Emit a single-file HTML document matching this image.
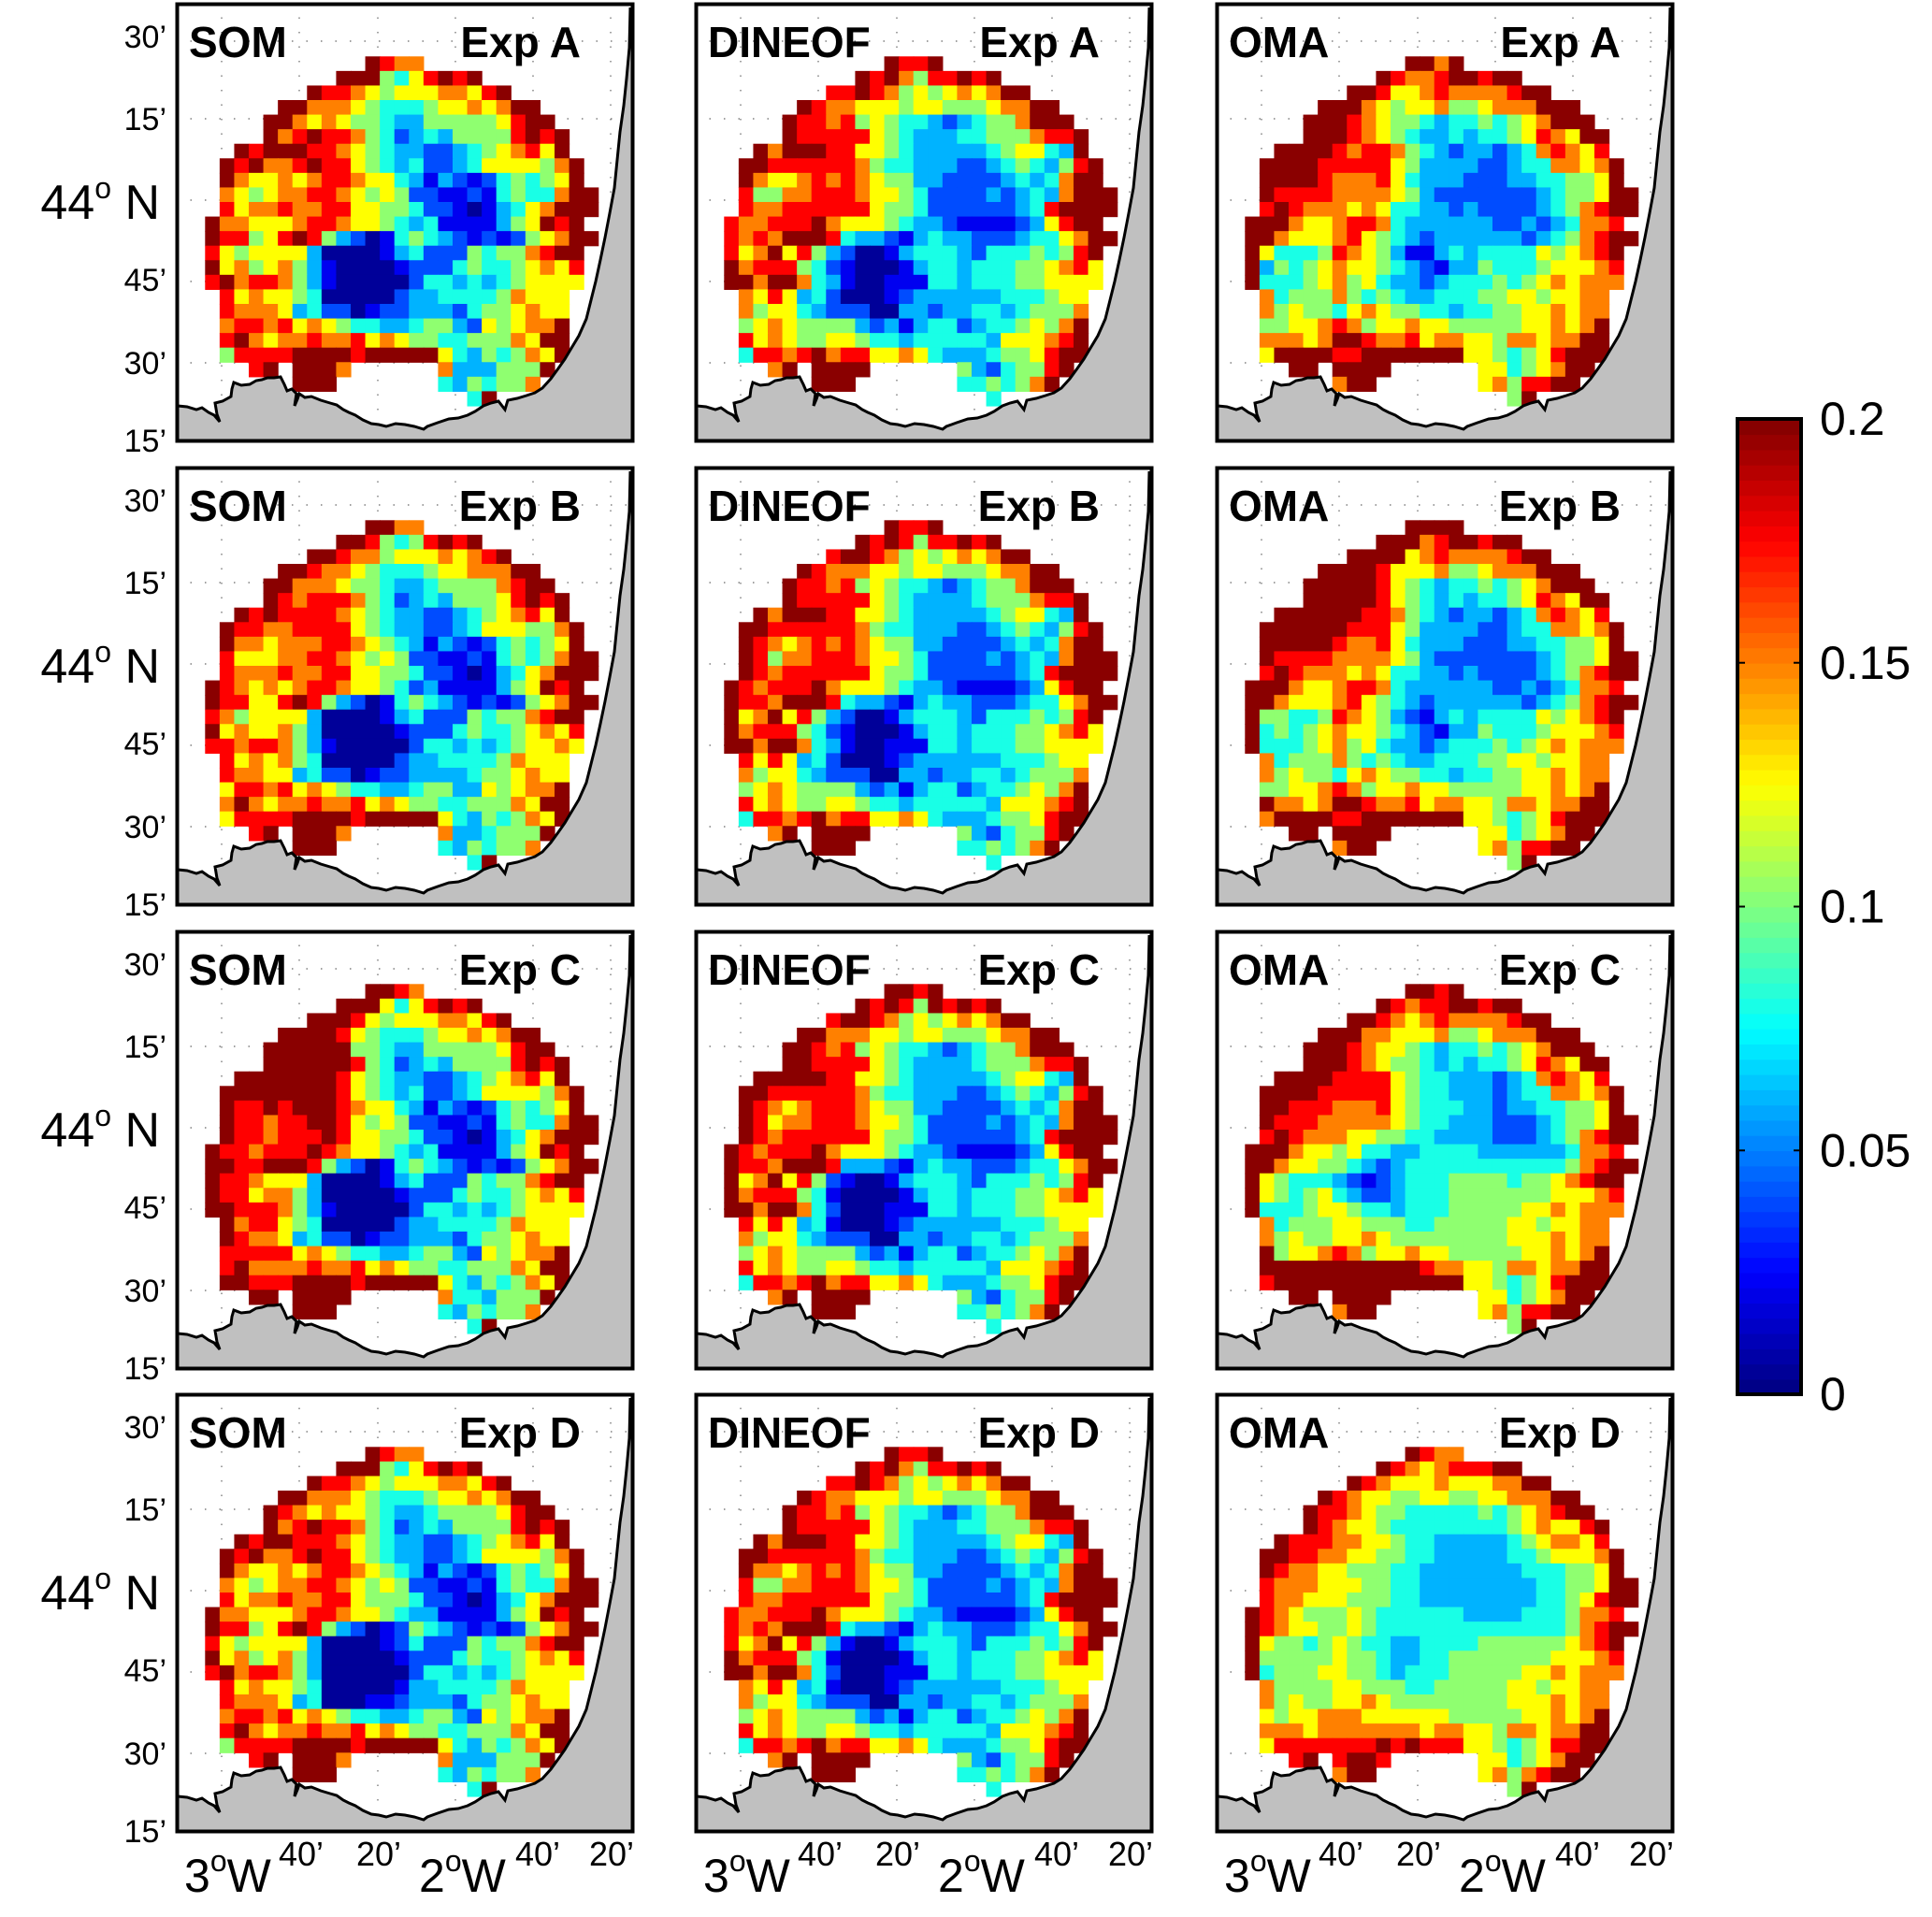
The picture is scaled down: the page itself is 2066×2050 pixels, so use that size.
<!DOCTYPE html>
<html><head><meta charset="utf-8"><style>
html,body{margin:0;padding:0;background:#fff}
svg{display:block}
text{font-family:"Liberation Sans",Arial,sans-serif}
</style></head><body>
<svg id="fig" width="2066" height="2050" viewBox="0 0 2066 2050" xmlns="http://www.w3.org/2000/svg"></svg>
<script>
// value levels per cell: digit d -> levelValues[d] ; '.' = no data
const levelValues = [0.005,0.022,0.04,0.06,0.08,0.103,0.125,0.15,0.175,0.198];
const methods = ["SOM","DINEOF","OMA"];
const experiments = ["Exp A","Exp B","Exp C","Exp D"];
const cbTicks = [0,0.05,0.1,0.15,0.2];
const cbTickLabels = ["0","0.05","0.1","0.15","0.2"];
const latLabels = ["30\u2019","15\u2019","44","45\u2019","30\u2019","15\u2019"];
const lonLabels = ["3","40\u2019","20\u2019","2","40\u2019","20\u2019"];

const somA = ["...........9877.............",".........9995468989.........",".......98876566677689.......",".....997776544456676799.....","....99767655433555556899....","....978988754234355558989...","..98999887654332234567869...",".9897789886543422346666579..",".9766767887664313212454569..",".76567788765652211214544799.",".86778778866554221013467999.","97766678876654341111356989..","988568985320145432121256799.","86566663000013422254557899..","96756753100001222454456768..","89788753100000244343456666..",".867665400000233444457666...",".877763422012233324556766...",".788786765443345532656779...",".897677877867655445557699...",".588889999899999643545769...","...89.9997......73335559....","......999.......4354557.....","..................49........"];
const somB = ["...........9977.............",".........9985458989.........",".......99877566676789.......",".....998776544456677799.....","....99777655433455557899....","....987888754234355568989...","..98988887654332234567869...",".9887788886543322346665579..",".9776777887654313212454569..",".86667788765652211214545799.",".87778778866554221013467999.","98767678876654231111356989..","988668985320145432121256799.","87566663000013422254557899..","96766753000001222454456768..","88788753100000244343456676..",".867675400000233444457666...",".877663422012233334556766...",".688786765443345533656779...",".797677877867655445557699...",".688889999899999643545769...","...89.9997......73345559....","......999.......4354557.....","..................49........"];
const somC = ["...........9987.............",".........9996468989.........",".......99986566677689.......",".....999986544456676799.....","....99999955433555556899....","....999999854234355558989...","..99999998654332234567869...",".9999999986543422346666579..",".9889899987664313212454569..",".98878899865652211214544799.",".98878889866554221013467999.","98878889876654341111356989..","998899985320145432121256799.","98876663000013422254557899..","98867753000001222454456768..","99888753100000244343456666..",".978865400000233444457666...",".987763422012233324556766...",".888886765443345532656779...",".897777877867655445557699...",".998889999899999643545769...","...99.9999......74435559....","......999.......4354557.....","..................49........"];
const somD = ["...........9877.............",".........9995468989.........",".......98876566677689.......",".....997776544456676799.....","....98767665433455556899....","....978988754234355558989...","..98998887654332234567869...",".9897789886543322346666579..",".9766767887654313212454569..",".76567788765652211214544799.",".86778778865554221013467999.","97766678876654331111356989..","988568985320125432121256799.","86566663000012422254557899..","96756753000001222454456768..","89788753000000244343456666..",".867665400000133444457666...",".877763400011233324556766...",".788786765443345532656779...",".897677877867655445557699...",".588889999899999643545769...","...89.9997......73335559....","......999.......4354557.....","..................49........"];
const dinA = ["...........9889.............",".........9897588989.........",".......88987565676799.......",".....987766656655567799.....","....98878565443234557999....","....988888654333445557889...","..97999886654333334566439...",".9988888875443332234543589..",".9766787876553322223434799..",".85577888766542222323437999.",".87788888865542222223489999.","87788897666543321111236899..","878799984332134332223446799.","86796853200134443244454589..","97888542100013443444556786..","99799743100111443444556666..",".768634200012333333444566...",".756643222003323344345557...",".567655553231344234456579...",".867655665443444443666789...",".488789788667643334556899...","...79.9999......53245589....","......999.......4454579.....","..................4........."];
const dinB = ["...........9889.............",".........9898588989.........",".......89987565676799.......",".....987776656655567799.....","....98878565443234557999....","....988888654333345557889...","..97999886654333334566439...",".9988888875443332234543589..",".9876787876553322223434799..",".98577888766542222323437999.",".98788888865542222223489999.","98788897666543321111236899..","988799984332134332223446799.","96796853200134443244454589..","97888542100013443444556786..","99799743100111443444556666..",".868634200012333333444566...",".756643222003323344345557...",".567655553231344234456579...",".867655665443444443666789...",".488789788667643334556899...","...79.9999......53245589....","......999.......4454579.....","..................4........."];
const dinC = ["...........9989.............",".........9898598989.........",".......89987565676799.......",".....997776656655567799.....","....99878565443234557999....","....998888654333345557889...","..99999886654333334566439...",".9988888875443332234543589..",".9876788876553322223434799..",".98677888766542222323437999.",".98788888865542222223489999.","98788897666543321111236899..","988799983332134332223446799.","96796852100134443244454589..","97888541000013443444556786..","99799742000111443444556666..",".868634100012333333444566...",".756643222003323344345557...",".567655553231344234456579...",".867655665443444443666789...",".488789788667643334556899...","...79.9999......53245589....","......999.......4454579.....","..................4........."];
const dinD = ["...........9889.............",".........9897588989.........",".......88987565676799.......",".....987766656655567799.....","....98878565443234557999....","....988888654333445557889...","..97999886654333334566439...",".9988888875443332234543589..",".9776787876553322223434799..",".85577888766542222323437999.",".87788888865542222223489999.","87788897666543321111236899..","878799984332134332223446799.","86796853100134443244454589..","97888541000013443444556786..","99799742000111443444556666..",".768634100012333333444566...",".756643222003323344345557...",".567655553231344234456579...",".867655665443444443666789...",".488789788667643334556899...","...79.9999......53245589....","......999.......4454579.....","..................4........."];
const omaA = ["...........9979.............",".........9877899899.........",".......99866787777899.......",".....999765667556777999.....","....99987655434454567999....","....999876543343445687699...","..99998788754323323478768...",".9999888886533332234477679..",".9999877786433322233445569..",".98888777765322222223455699.",".89877767644332322223457899.","99976678874333333223234778..","997666786543233333323457899.","96444587653113434444656789..","93545676654321335444566678..","94445675643323444545676777..",".745557545433444556656677...",".756554676554434455667677...",".556678756676655555667679...",".777679987786776657767799...",".699998899999996654568999...","...99.9999......66456799....","......799.......6758899.....","..................59........"];
const omaB = ["...........9999.............",".........9997899899.........",".......99996787777899.......",".....999986667556777999.....","....99999865434454567999....","....999998654343445687699...","..99999988754323323478768...",".9999998886533332234477679..",".9999987786433322233445569..",".98888777765322222223455699.",".89877767644332322223457899.","99976678874333333223234778..","997666786543233333323457899.","95544587653213434444656789..","94545676654321335444566678..","94445675643323444545676777..",".745557545433444556656677...",".756554676554434455667677...",".556678756676655555667679...",".977679987786776657767799...",".799998899999996654568999...","...99.9999......66456799....","......799.......6758899.....","..................59........"];
const omaC = ["...........9989.............",".........9878899899.........",".......99876787777899.......",".....999776667556777999.....","....99987665434454567999....","....999876554343445687699...","..99998888654433323478768...",".9999888886544333234477679..",".9988877786544433233445569..",".98887777765443332223455699.",".89877766554433332223457899.","99976656443344443333334778..","997665543234444444444457899.","96544432123444555545567899..","96545643223444555555566678..","94445665443444555556676777..",".745556655544555556656677...",".756556676555555556667677...",".956678756676655555667679...",".999999999998776657767799...",".899999999999996654568999...","...99.9999......66456799....","......799.......6758899.....","..................59........"];
const omaD = ["...........9877.............",".........9876788899.........",".......98766676667799.......",".....987665566556677799.....","....98876554444454567899....","....987665444444445676689...","..98887766544333334567768...",".9988776655443333344566679..",".9877665554433333334445569..",".87776665544333333334455699.",".87766655544333333334456899.","98765556544444433334445778..","987665565444444444444457899.","96554565443344445555556789..","95555565543344555555566678..","94555665543444555556676777..",".755556655544555556656677...",".756556676555555556667677...",".656677766666655555667679...",".777677777776776657767799...",".688888889898886654568899...","...89.8998......66456799....","......799.......6757899.....","..................59........"];
const panelData = [[somA,dinA,omaA],[somB,dinB,omaB],[somC,dinC,omaC],[somD,dinD,omaD]];

const NS="http://www.w3.org/2000/svg";
const svg=document.getElementById('fig');
function mk(tag,attrs,parent){const e=document.createElementNS(NS,tag);for(const k in attrs)e.setAttribute(k,attrs[k]);(parent||svg).appendChild(e);return e;}
function jet(t){t=Math.max(0,Math.min(1,t));const c=x=>Math.round(255*Math.max(0,Math.min(1,1.5-Math.abs(x))));return `rgb(${c(4*t-3)},${c(4*t-2)},${c(4*t-1)})`;}
const vmin=0,vmax=0.2;
const colorScale=v=>jet((v-vmin)/(vmax-vmin));
const digitToValue=d=>levelValues[d];

const colX=[188,743,1300], rowY=[3,499,995,1490];
const PW=490, PH=470, cell=15.57, gx0=31.3, gy0=57.3;
const xScale=c=>gx0+c*cell, yScale=r=>gy0+r*cell;
const coast=[[2,431],[12,432],[22,435],[28,433],[35,438],[41,441],[47,448],[44,440],[42,428],[50,426],[59,421],[60,413],[62,406],[70,409],[79,408],[86,404],[92,403],[98,401],[105,401],[112,400],[116,408],[119,415],[124,413],[129,418],[127,431],[130,424],[132,418],[138,422],[145,421],[155,425],[165,428],[172,430],[179,435],[185,438],[192,441],[200,446],[209,450],[217,451],[225,453],[235,450],[245,451],[255,453],[265,456],[269,453],[280,449],[292,445],[302,444],[312,441],[320,437],[329,431],[337,428],[345,426],[352,435],[355,425],[365,423],[375,420],[384,417],[392,412],[401,402],[409,391],[416,381],[422,371],[431,356],[439,338],[444,318],[449,298],[454,275],[459,251],[464,225],[469,198],[472,168],[475,138],[479,110],[482,81],[485,48],[486,5]];
const coastD="M"+coast.map(p=>p.join(",")).join(" L");

for(let i=0;i<4;i++){for(let j=0;j<3;j++){
  const g=mk('g',{transform:`translate(${colX[j]},${rowY[i]})`});
  
  
  mk('rect',{x:0,y:0,width:PW,height:PH,fill:'#fff'},g);
  [49,132,216,299,382,465].forEach(x=>mk('line',{x1:x,y1:0,x2:x,y2:PH,stroke:'#666','stroke-width':1.2,'stroke-dasharray':'1.5,14'},g));
  [41,124,211,298,385].forEach(y=>mk('line',{x1:0,y1:y,x2:PW,y2:y,stroke:'#666','stroke-width':1.2,'stroke-dasharray':'1.5,14'},g));
  const rows=panelData[i][j];
  rows.forEach((row,r)=>{for(let c=0;c<row.length;c++){const ch=row[c];if(ch<'0'||ch>'9')continue;
    const v=digitToValue(+ch);
    const cr=mk('rect',{x:xScale(c).toFixed(2),y:yScale(r).toFixed(2),width:(cell+0.6).toFixed(2),height:(cell+0.6).toFixed(2),fill:colorScale(v)},g);
    
    
  }});
  const land=mk('path',{d:coastD+` L490,5 L490,${PH} L0,${PH} L0,431 Z`,fill:'#c0c0c0',stroke:'none'},g);
  
  
  const cl=mk('path',{d:coastD,fill:'none',stroke:'#000','stroke-width':3},g);
  
  
  mk('rect',{x:1.5,y:1.5,width:PW-3,height:PH-3,fill:'none',stroke:'#000','stroke-width':4},g);
  const t1=mk('text',{x:14,y:58,'font-size':46,'font-weight':'bold'},g);t1.textContent=methods[j];
  
  
  const t2=mk('text',{x:433,y:58,'font-size':46,'font-weight':'bold','text-anchor':'end'},g);t2.textContent=experiments[i];
  
  
}
  const ly=[36,124,213,296,385,468];
  latLabels.forEach((s,k)=>{
    if(k===2){const t=mk('text',{x:171,y:rowY[i]+ly[k]+18,'font-size':52,'text-anchor':'end'});
      
      
      t.innerHTML='44<tspan dy="-22" font-size="32">o</tspan><tspan dy="22"> N</tspan>';}
    else{const t=mk('text',{x:178,y:rowY[i]+ly[k]+12,'font-size':34,'text-anchor':'end'});t.textContent=s;
      
      }
  });
}
for(let j=0;j<3;j++){const x=colX[j];
  [[9,0],[134,1],[217,2],[260,3],[387,4],[466,5]].forEach(([dx,k])=>{
    if(k===0||k===3){const t=mk('text',{x:x+dx,y:2023,'font-size':50});
      
      
      t.innerHTML=lonLabels[k]+'<tspan dy="-22" font-size="32">o</tspan><tspan dy="22">W</tspan>';}
    else{const t=mk('text',{x:x+dx,y:1995,'font-size':36,'text-anchor':'middle'});t.textContent=lonLabels[k];
      
      }
  });
}
const cbX=1858,cbW=68,cbTop=448,cbBot=1491;
const cbY=v=>cbBot-(v-vmin)/(vmax-vmin)*(cbBot-cbTop);
const cb=mk('g',{});


const nSteps=64;
for(let k=0;k<nSteps;k++){const v0=vmin+(vmax-vmin)*k/nSteps,v1=vmin+(vmax-vmin)*(k+1)/nSteps;
  mk('rect',{x:cbX,y:cbY(v1),width:cbW,height:cbY(v0)-cbY(v1)+0.8,fill:colorScale((v0+v1)/2)},cb);}
mk('rect',{x:cbX,y:cbTop,width:cbW,height:cbBot-cbTop,fill:'none',stroke:'#000','stroke-width':4},cb);
cbTicks.forEach((v,k)=>{const y=cbY(v);
  mk('line',{x1:cbX,y1:y,x2:cbX+8,y2:y,stroke:'#000','stroke-width':2},cb);
  mk('line',{x1:cbX+cbW-8,y1:y,x2:cbX+cbW,y2:y,stroke:'#000','stroke-width':2},cb);
  const t=mk('text',{x:1946,y:y+17,'font-size':50},cb);t.textContent=cbTickLabels[k];
  
  
});
</script>
</body></html>
